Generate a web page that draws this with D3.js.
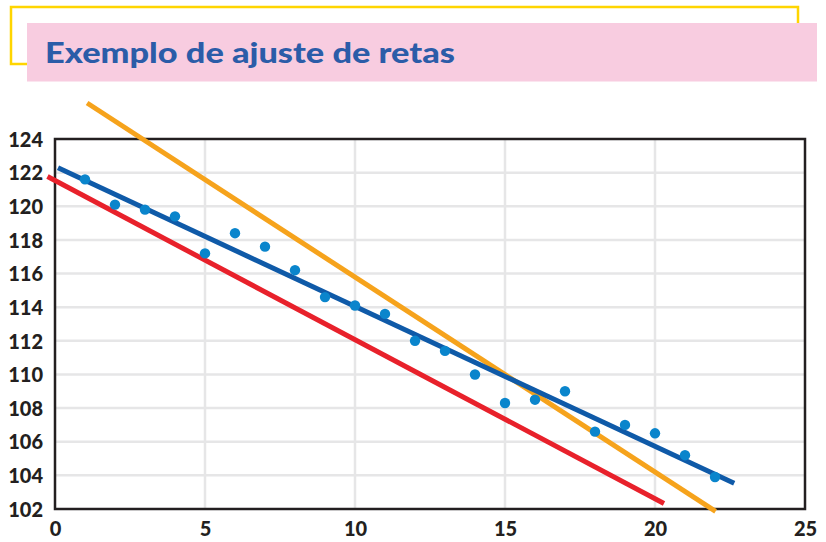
<!DOCTYPE html>
<html>
<head>
<meta charset="utf-8">
<script src="https://cdn.jsdelivr.net/npm/d3@7"></script>
<style>
  html, body { margin: 0; padding: 0; background: #ffffff; }
  svg { display: block; }
</style>
</head>
<body>
<svg id="chart" width="826" height="542"></svg>
<script>
// Observed data: x = sample index, y = measured value
const xValues = [1, 2, 3, 4, 5, 6, 7, 8, 9, 10, 11, 12, 13, 14, 15, 16, 17, 18, 19, 20, 21, 22];
const yValues = [121.6, 120.1, 119.8, 119.4, 117.2, 118.4, 117.6, 116.2, 114.6, 114.1, 113.6, 112.0,
                 111.4, 110.0, 108.3, 108.5, 109.0, 106.6, 107.0, 106.5, 105.2, 103.9];

// Candidate straight lines y = intercept + slope * x, drawn over [xStart, xEnd]
const lineNames  = ["vermelha", "laranja", "azul"];
const intercepts = [121.53, 127.38, 122.37];
const slopes     = [-0.946, -1.159, -0.832];
const xStarts    = [-0.25, 1.07, 0.1];
const xEnds      = [20.3, 22.02, 22.64];
const lineColors = ["#e8212b", "#f6a31c", "#0f5aa8"];

// Axis ticks
const xTicks = [0, 5, 10, 15, 20, 25];
const yTicks = [102, 104, 106, 108, 110, 112, 114, 116, 118, 120, 122, 124];

const titleText = "Exemplo de ajuste de retas";

const svg = d3.select("#chart");

// Title banner: yellow outline behind a pink band
svg.append("rect")
  .attr("x", 11).attr("y", 7).attr("width", 787).attr("height", 57)
  .attr("fill", "none").attr("stroke", "#ffd500").attr("stroke-width", 2.5);
svg.append("rect")
  .attr("x", 27).attr("y", 23).attr("width", 790).attr("height", 58.5)
  .attr("fill", "#f8cce0");
svg.append("text")
  .attr("x", 45).attr("y", 63)
  .attr("font-family", "Lato, 'Noto Sans', sans-serif")
  .attr("font-weight", 900)
  .attr("font-size", 28)
  .attr("fill", "#2b5ca8")
  .attr("textLength", 410)
  .attr("lengthAdjust", "spacingAndGlyphs")
  .text(titleText);

// Scales
const x = d3.scaleLinear().domain([0, 25]).range([55, 805]);
const y = d3.scaleLinear().domain([102, 124]).range([509, 139]);

// Grid
const grid = svg.append("g");
grid.selectAll(".gx")
  .data(xTicks.filter(t => t > 0 && t < 25))
  .join("line")
  .attr("x1", d => x(d)).attr("x2", d => x(d))
  .attr("y1", y(124)).attr("y2", y(102))
  .attr("stroke", "#e6e6e7").attr("stroke-width", 2.5);
grid.selectAll(".gy")
  .data(yTicks.filter(t => t > 102 && t < 124))
  .join("line")
  .attr("x1", x(0)).attr("x2", x(25))
  .attr("y1", d => y(d)).attr("y2", d => y(d))
  .attr("stroke", "#e6e6e7").attr("stroke-width", 2.5);

// Plot frame
svg.append("rect")
  .attr("x", x(0)).attr("y", y(124))
  .attr("width", x(25) - x(0)).attr("height", y(102) - y(124))
  .attr("fill", "none").attr("stroke", "#231f20").attr("stroke-width", 2.5);

// Axes (labels only)
const labelFont = "Lato, 'Noto Sans', sans-serif";
const yAxis = svg.append("g")
  .attr("transform", `translate(${x(0) - 12},0)`)
  .call(d3.axisLeft(y).tickValues(yTicks).tickSize(0).tickPadding(0).tickFormat(d3.format("d")));
yAxis.select(".domain").remove();
yAxis.selectAll("text")
  .attr("font-family", labelFont).attr("font-weight", 900).attr("font-size", 20)
  .attr("fill", "#231f20").attr("dy", "0.36em");

const xAxis = svg.append("g")
  .attr("transform", `translate(0,${y(102)})`)
  .call(d3.axisBottom(x).tickValues(xTicks).tickSize(0).tickPadding(13).tickFormat(d3.format("d")));
xAxis.select(".domain").remove();
xAxis.selectAll("text")
  .attr("font-family", labelFont).attr("font-weight", 900).attr("font-size", 20)
  .attr("fill", "#231f20");

// Fitted lines
const lines = lineNames.map((name, i) => ({
  name,
  color: lineColors[i],
  pts: [xStarts[i], xEnds[i]].map(xv => [xv, intercepts[i] + slopes[i] * xv])
}));
const lineGen = d3.line().x(d => x(d[0])).y(d => y(d[1]));
svg.append("g").selectAll("path")
  .data(lines)
  .join("path")
  .attr("d", d => lineGen(d.pts))
  .attr("fill", "none")
  .attr("stroke", d => d.color)
  .attr("stroke-width", 5);

// Observations
svg.append("g").selectAll("circle")
  .data(xValues.map((xv, i) => [xv, yValues[i]]))
  .join("circle")
  .attr("cx", d => x(d[0]))
  .attr("cy", d => y(d[1]))
  .attr("r", 5.2)
  .attr("fill", "#0a85cc");
</script>
</body>
</html>
